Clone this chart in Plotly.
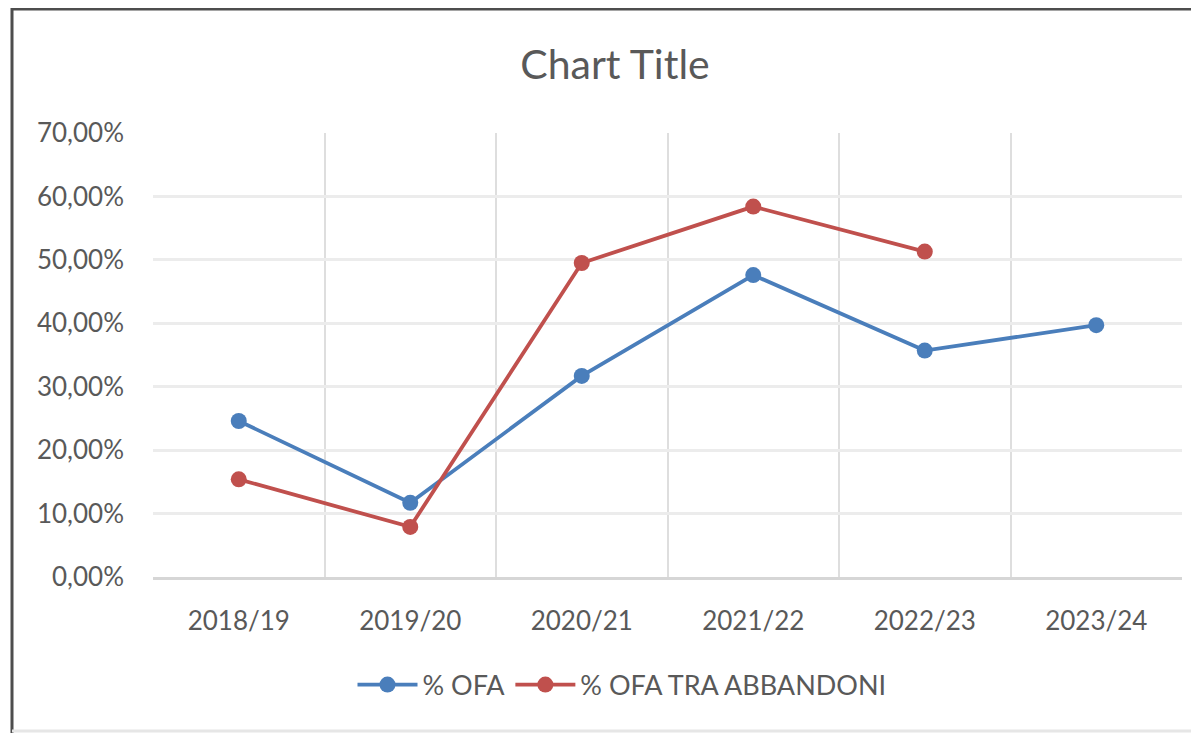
import plotly.graph_objects as go

# categories and values (fractions, shown as %)
anni = ["2018/19", "2019/20", "2020/21", "2021/22", "2022/23", "2023/24"]
ofa = [0.246, 0.117, 0.317, 0.476, 0.357, 0.397]
ofa_abbandoni = [0.154, 0.079, 0.495, 0.584, 0.513, None]
y_ticks = [0, 0.1, 0.2, 0.3, 0.4, 0.5, 0.6, 0.7]

BLUE = "#4A7EBB"
RED = "#C0504D"
TEXT = "#595959"
FONT = "Lato"

# page body has an 8px margin, so the figure is a bit smaller and everything is shifted
W, H = 1191, 725
L, R, T, B = 145, 17, 125, 156
PW, PH = W - L - R, H - T - B


def px_x(x):
    return (x - L) / PW


def px_y(y):
    return (H - B - y) / PH


fig = go.Figure()
fig.add_trace(go.Scatter(
    x=anni, y=ofa, name="% OFA", mode="lines+markers",
    line=dict(color=BLUE, width=3.8),
    marker=dict(color=BLUE, size=16, symbol="circle"),
))
fig.add_trace(go.Scatter(
    x=anni, y=ofa_abbandoni, name="% OFA TRA ABBANDONI", mode="lines+markers",
    line=dict(color=RED, width=3.8),
    marker=dict(color=RED, size=16, symbol="circle"),
))

fig.update_layout(
    width=W, height=H,
    margin=dict(l=L, r=R, t=T, b=B),
    paper_bgcolor="white", plot_bgcolor="white",
    separators=",.",
    font=dict(family=FONT, color=TEXT, size=26),
    title=dict(text="Chart Title", x=607 / W, xanchor="center", xref="container",
               y=1 - 57 / H, yanchor="middle", yref="container",
               font=dict(size=41, color=TEXT, family=FONT)),
    legend=dict(orientation="h", xref="container", yref="container",
                x=614 / W, xanchor="center", y=1 - 677 / H, yanchor="middle",
                font=dict(size=27, color=TEXT), itemwidth=60),
    xaxis=dict(type="category", range=[-0.5, 5.5], tickson="boundaries",
               showgrid=True, gridcolor="#dedede", gridwidth=2,
               showline=True, linecolor="#d6d6d6", linewidth=3,
               ticks="", ticklabelstandoff=19, zeroline=False,
               tickfont=dict(size=26, color=TEXT)),
    yaxis=dict(range=[0, 0.7], tickvals=y_ticks, tickformat=".2%",
               showgrid=True, gridcolor="#ececec", gridwidth=3,
               zeroline=False, showline=False, ticks="", ticklabelstandoff=28,
               tickfont=dict(size=26, color=TEXT)),
    shapes=[
        # chart-area border: dark left/top, light bottom
        dict(type="line", xref="paper", yref="paper",
             x0=px_x(4), x1=px_x(4), y0=px_y(H), y1=px_y(0),
             line=dict(color="#4d4d4d", width=3)),
        dict(type="line", xref="paper", yref="paper",
             x0=px_x(4), x1=px_x(W), y0=px_y(1), y1=px_y(1),
             line=dict(color="#4d4d4d", width=3)),
        dict(type="line", xref="paper", yref="paper",
             x0=px_x(4), x1=px_x(W), y0=px_y(723), y1=px_y(723),
             line=dict(color="#e6e6e6", width=3)),
    ],
)

fig.write_html("out.html")
